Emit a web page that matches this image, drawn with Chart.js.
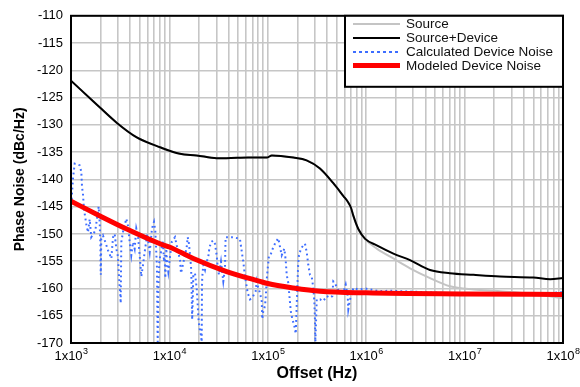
<!DOCTYPE html>
<html>
<head>
<meta charset="utf-8">
<script src="https://cdn.jsdelivr.net/npm/chart.js@4.4.1/dist/chart.umd.min.js"></script>
<style>
  html, body { margin: 0; padding: 0; background: #fff; }
</style>
</head>
<body>
<canvas id="pnChart" width="580" height="387"></canvas>
<script>
// === phase noise traces: [offset Hz, dBc/Hz] ===
const sourceTrace = [
  [1000, -121.9], [1690, -125.7], [2910, -129.6], [4660, -132.3], [8020, -134.1],
  [12800, -135.3], [18900, -135.6], [30200, -136.1], [38000, -136.1],
  [63100, -136.0], [97700, -136.0], [110000, -135.6], [182000, -136.0], [248000, -136.5],
  [339000, -138.0], [463000, -140.7], [589000, -143.1], [650000, -144.1], [700000, -145.2],
  [741000, -146.7], [832000, -149.2], [933000, -150.6], [1280000, -152.7], [1890000, -154.5],
  [2790000, -156.3], [4450000, -158.1], [7080000, -159.6], [12300000, -160.2],
  [22900000, -160.5], [50100000, -161.0], [100000000, -161.8]
];

const sourceDeviceTrace = [
  [1000, -121.9], [1690, -125.7], [2910, -129.6], [4660, -132.3], [8020, -134.1],
  [12800, -135.3], [18900, -135.6], [30200, -136.1], [38000, -136.1],
  [63100, -136.0], [97700, -136.0], [110000, -135.6], [182000, -136.0], [248000, -136.5],
  [339000, -138.0], [463000, -140.7], [589000, -143.1], [650000, -144.1], [700000, -145.2],
  [741000, -146.7], [832000, -149.1], [977000, -150.9], [1280000, -152.1], [1890000, -153.6],
  [2790000, -154.8], [4450000, -156.6], [7080000, -157.2], [12300000, -157.5],
  [22900000, -157.8], [50100000, -158.0], [74100000, -158.3], [100000000, -158.1]
];

const calcDeviceTrace = [
  [1007, -145.5], [1024, -142.5], [1048, -139.8], [1090, -137.1], [1225, -137.4],
  [1273, -138.6], [1294, -141.3], [1324, -142.8], [1356, -145.5], [1397, -147.0],
  [1429, -148.2], [1488, -149.7], [1549, -147.3], [1607, -150.6], [1765, -149.4],
  [1910, -145.0], [1957, -147.9], [1990, -152.1], [2000, -156.3], [2010, -157.5],
  [2030, -150.9], [2113, -150.3], [2233, -151.5], [2378, -153.0], [2570, -154.5],
  [2673, -150.6], [2780, -150.0], [2887, -152.7], [3003, -154.2], [3055, -156.9],
  [3126, -159.9], [3170, -161.1], [3200, -162.7], [3245, -151.5], [3373, -149.7],
  [3646, -147.2], [3793, -148.5], [3950, -151.5], [4100, -153.9], [4265, -151.5],
  [4435, -152.7], [4610, -149.0], [4796, -150.3], [4990, -153.9], [5180, -157.8],
  [5390, -155.7], [5610, -153.3], [5960, -150.0], [6310, -153.3], [6653, -149.0],
  [6970, -147.8], [7190, -149.4], [7480, -156.3], [7510, -160.5], [7530, -163.5],
  [7550, -165.9], [7580, -168.3], [7610, -169.8], [7720, -160.0], [7900, -155.0],
  [8610, -151.2], [8810, -155.1], [8960, -153.9], [9080, -158.1], [9300, -152.7],
  [9400, -154.5], [9750, -156.9], [10550, -151.5], [11400, -150.6], [11860, -152.1],
  [12820, -154.8], [13120, -157.2], [14410, -153.9], [15000, -152.4], [15350, -150.6],
  [15820, -151.8], [16590, -156.0], [16790, -159.0], [16850, -161.4], [16970, -164.1],
  [17050, -165.7], [17500, -157.5], [18200, -157.2], [18930, -159.9], [19300, -162.3],
  [19680, -165.3], [20140, -167.1], [20940, -168.6], [21280, -169.8], [21430, -159.9],
  [21580, -157.8], [22120, -155.7], [23010, -156.6], [23930, -155.1], [24850, -154.2],
  [25440, -152.7], [26460, -151.5], [27940, -151.2], [29050, -151.8], [30230, -153.9],
  [30940, -156.0], [31910, -157.5], [33440, -155.1], [35300, -158.7], [36720, -156.3],
  [37100, -151.8], [37300, -150.6], [44560, -150.6], [52100, -150.9], [55030, -153.9],
  [56370, -155.1], [58670, -157.8], [62460, -160.8], [65960, -162.0], [69560, -161.7],
  [75300, -160.5], [77100, -158.7], [80000, -159.9], [83300, -160.8], [86700, -162.3],
  [87900, -165.6], [90000, -164.1], [93700, -163.2], [95200, -161.7], [97500, -158.4],
  [99800, -156.3], [101000, -155.4], [102800, -153.9], [107800, -153.6], [113800, -152.4],
  [120300, -151.5], [127900, -150.8], [133100, -152.4], [138400, -153.9], [147200, -152.7],
  [152000, -154.8], [155600, -157.5], [161500, -159.0], [165300, -161.1], [170900, -164.1],
  [177500, -165.6], [185900, -166.8], [192200, -168.3], [196800, -162.9], [199600, -159.9],
  [201500, -157.8], [203700, -155.4], [207500, -153.9], [217400, -152.7], [229500, -152.1],
  [238800, -151.8], [248400, -153.3], [258000, -155.7], [268400, -157.5], [279200, -157.8],
  [290000, -159.9], [297000, -162.3], [301000, -165.3], [303000, -168.3], [304600, -169.8],
  [314300, -162.0], [339100, -162.0], [366300, -162.3], [396700, -161.4], [428500, -161.7],
  [452500, -161.4], [463000, -158.7], [481900, -159.0], [512900, -160.2], [554300, -160.5],
  [585200, -160.8], [619100, -159.3], [649000, -161.4], [658000, -163.8], [684000, -162.0],
  [701000, -161.7], [740000, -159.9], [831000, -160.2], [972000, -160.0], [1380000, -160.5],
  [1746000, -160.4], [3013000, -160.6], [4449000, -160.7], [7100000, -160.9],
  [14300000, -161.0], [28900000, -160.9], [58300000, -161.0], [95500000, -160.7],
  [100000000, -160.8]
];

const modeledDeviceTrace = [
  [1000, -144.0], [1970, -146.7], [3680, -149.1], [8020, -151.8], [10000, -152.4],
  [17500, -154.5], [38200, -156.9], [83200, -158.7], [100000, -159.1], [182000, -159.9],
  [339000, -160.5], [1000000, -160.8], [10000000, -161.0], [100000000, -161.1]
];

const seriesNames = ['Source', 'Source+Device', 'Calculated Device Noise', 'Modeled Device Noise'];
const decadeExps = [3, 4, 5, 6, 7, 8];
const yTicks = [-170, -165, -160, -155, -150, -145, -140, -135, -130, -125, -120, -115, -110];

const FONT = '"Liberation Sans", Arial, sans-serif';

// log grid: 1..9 per decade
const gridTicks = [];
decadeExps.forEach(e => {
    if (e === 8) { gridTicks.push(1e8); return; }
    for (let m = 1; m <= 9; m++) gridTicks.push(m * Math.pow(10, e));
});

const toXY = arr => arr.map(p => ({ x: p[0], y: p[1] }));

// x axis labels "1x10^n" with raised exponent
const offsetLabels = {
    id: 'offsetLabels',
    afterDraw(chart) {
        const { ctx } = chart;
        const xs = chart.scales.x;
        ctx.save();
        ctx.fillStyle = '#000';
        ctx.textBaseline = 'alphabetic';
        decadeExps.forEach(e => {
            const px = xs.getPixelForValue(Math.pow(10, e));
            ctx.font = '13px ' + FONT;
            const wb = ctx.measureText('1x10').width;
            ctx.font = '9px ' + FONT;
            const we = ctx.measureText(String(e)).width;
            const left = px - (wb + we) / 2;
            ctx.font = '13px ' + FONT;
            ctx.fillText('1x10', left, 360);
            ctx.font = '9px ' + FONT;
            ctx.fillText(String(e), left + wb + 0.5, 354);
        });
        ctx.restore();
    }
};

// black frame + boxed legend inside the plot
const frameLegend = {
    id: 'frameLegend',
    afterDraw(chart) {
        const { ctx, chartArea: a } = chart;
        ctx.save();
        ctx.strokeStyle = '#000';
        ctx.lineWidth = 2;
        ctx.strokeRect(a.left, a.top, a.right - a.left, a.bottom - a.top);

        const bx = 345, by = a.top, bw = a.right - 345, bh = 71;
        ctx.fillStyle = '#fff';
        ctx.fillRect(bx, by, bw, bh);
        ctx.strokeRect(bx, by, bw, bh);

        const rows = [24, 38, 52, 65.5];
        chart.data.datasets.forEach((ds, i) => {
            const y = rows[i];
            ctx.beginPath();
            ctx.strokeStyle = ds.borderColor;
            ctx.lineWidth = ds.borderWidth;
            ctx.setLineDash(i === 2 ? [3, 3] : []);
            ctx.moveTo(353, y);
            ctx.lineTo(400, y);
            ctx.stroke();
            ctx.setLineDash([]);
            ctx.fillStyle = '#111';
            ctx.font = '13.5px ' + FONT;
            ctx.textBaseline = 'middle';
            ctx.fillText(ds.label, 406, y + 0.5);
        });
        ctx.restore();
    }
};

const ctx = document.getElementById('pnChart').getContext('2d');

const pnChart = new Chart(ctx, {
    type: 'line',
    data: {
        datasets: [
            {
                label: seriesNames[0],
                data: toXY(sourceTrace),
                borderColor: '#c4c4c4',
                borderWidth: 2,
                cubicInterpolationMode: 'monotone',
                pointRadius: 0,
                order: 2
            },
            {
                label: seriesNames[1],
                data: toXY(sourceDeviceTrace),
                borderColor: '#000000',
                borderWidth: 2,
                cubicInterpolationMode: 'monotone',
                pointRadius: 0,
                order: 1
            },
            {
                label: seriesNames[2],
                data: toXY(calcDeviceTrace),
                borderColor: '#3d6dff',
                borderWidth: 2,
                borderDash: [1.8, 3.2],
                tension: 0,
                pointRadius: 0,
                order: 3
            },
            {
                label: seriesNames[3],
                data: toXY(modeledDeviceTrace),
                borderColor: '#ff0000',
                borderWidth: 5,
                cubicInterpolationMode: 'monotone',
                pointRadius: 0,
                order: 0
            }
        ]
    },
    options: {
        responsive: false,
        animation: false,
        devicePixelRatio: 1,
        layout: { padding: { left: 0, top: 9, right: 17, bottom: 0 } },
        plugins: {
            legend: { display: false },
            tooltip: { enabled: false }
        },
        scales: {
            x: {
                type: 'logarithmic',
                min: 1e3,
                max: 1e8,
                afterBuildTicks: s => { s.ticks = gridTicks.map(v => ({ value: v })); },
                afterFit: s => { s.height = 44; },
                ticks: { display: false },
                grid: { color: '#c6c6c6', lineWidth: 1.6, drawTicks: false },
                border: { color: '#000', width: 2 },
                title: {
                    display: true,
                    text: 'Offset (Hz)',
                    color: '#000',
                    font: { family: FONT, size: 16, weight: 'bold' },
                    padding: { top: 0, bottom: 4 }
                }
            },
            y: {
                min: -170,
                max: -110,
                afterBuildTicks: s => { s.ticks = yTicks.map(v => ({ value: v })); },
                afterFit: s => { s.width = 71; },
                ticks: {
                    color: '#000',
                    font: { family: FONT, size: 13 },
                    padding: 8
                },
                grid: { color: '#c6c6c6', lineWidth: 1.6, drawTicks: false },
                border: { color: '#000', width: 2 },
                title: {
                    display: true,
                    text: 'Phase Noise (dBc/Hz)',
                    color: '#000',
                    font: { family: FONT, size: 14, weight: 'bold' },
                    padding: { top: 12, bottom: 0 }
                }
            }
        }
    },
    plugins: [offsetLabels, frameLegend]
});
</script>
</body>
</html>
